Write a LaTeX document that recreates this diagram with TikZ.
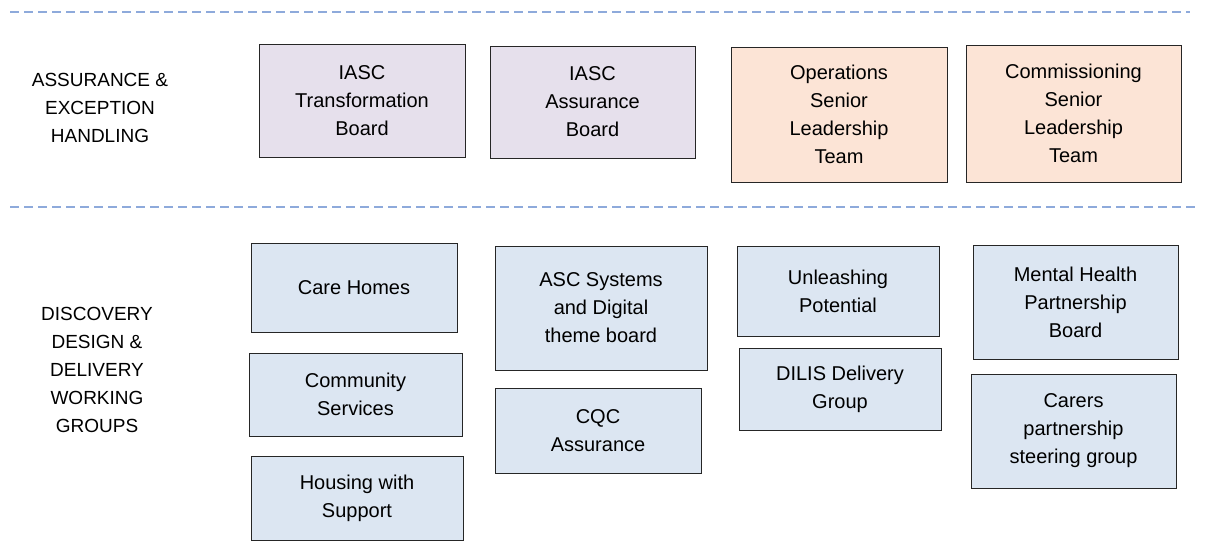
\documentclass[tikz,border=0pt]{standalone}
\usepackage{fontspec}
\setmainfont{Liberation Sans}
\begin{document}
\begin{tikzpicture}[x=1pt,y=-1pt,
  box/.style={draw=black!85,line width=1pt,align=center,font=\fontsize{20}{28}\selectfont,inner sep=2pt},
  pur/.style={box,fill=purple!8!blue!4!white,fill={rgb,255:red,230;green,224;blue,236}},
  org/.style={box,fill={rgb,255:red,252;green,228;blue,214}},
  blu/.style={box,fill={rgb,255:red,220;green,230;blue,242}},
  sep/.style={draw={rgb,255:red,142;green,170;blue,219},line width=1.2pt,dash pattern=on 9pt off 5pt},
  lab/.style={align=center,font=\fontsize{19}{28}\selectfont}]
\useasboundingbox (0,0) rectangle (1226,558);
\newcommand{\bx}[7]{\node[#1,minimum width=#4-#2,minimum height=#5-#3] (#6) at ({(#2+#4)/2},{(#3+#5)/2}) {#7};}
\coordinate (l1a) at (10,12); \coordinate (l1b) at (1190,12);
\coordinate (l2a) at (10,207); \coordinate (l2b) at (1197,207);
\draw[sep] (l1a) -- (l1b);
\draw[sep] (l2a) -- (l2b);
\node[lab] (h1) at (100,108) {ASSURANCE \&\\EXCEPTION\\HANDLING};
\node[lab] (h2) at (97,370) {DISCOVERY\\DESIGN \&\\DELIVERY\\WORKING\\GROUPS};
\bx{pur}{259}{44}{465}{157}{a}{IASC\\Transformation\\Board}
\bx{pur}{490}{46}{695}{158}{b}{IASC\\Assurance\\Board}
\bx{org}{731}{47}{947}{182}{c}{Operations\\Senior\\Leadership\\Team}
\bx{org}{966}{45}{1181}{182}{d}{Commissioning\\Senior\\Leadership\\Team}
\bx{blu}{251}{243}{457}{332}{e}{Care Homes}
\bx{blu}{249}{353}{462}{436}{f}{Community\\Services}
\bx{blu}{251}{456}{463}{540}{g}{Housing with\\Support}
\bx{blu}{495}{246}{707}{370}{h}{ASC Systems\\and Digital\\theme board}
\bx{blu}{495}{388}{701}{473}{i}{CQC\\Assurance}
\bx{blu}{737}{246}{939}{336}{j}{Unleashing\\Potential}
\bx{blu}{739}{348}{941}{430}{k}{DILIS Delivery\\Group}
\bx{blu}{973}{245}{1178}{359}{m}{Mental Health\\Partnership\\Board}
\bx{blu}{971}{374}{1176}{488}{n}{Carers\\partnership\\steering group}
\end{tikzpicture}
\end{document}
